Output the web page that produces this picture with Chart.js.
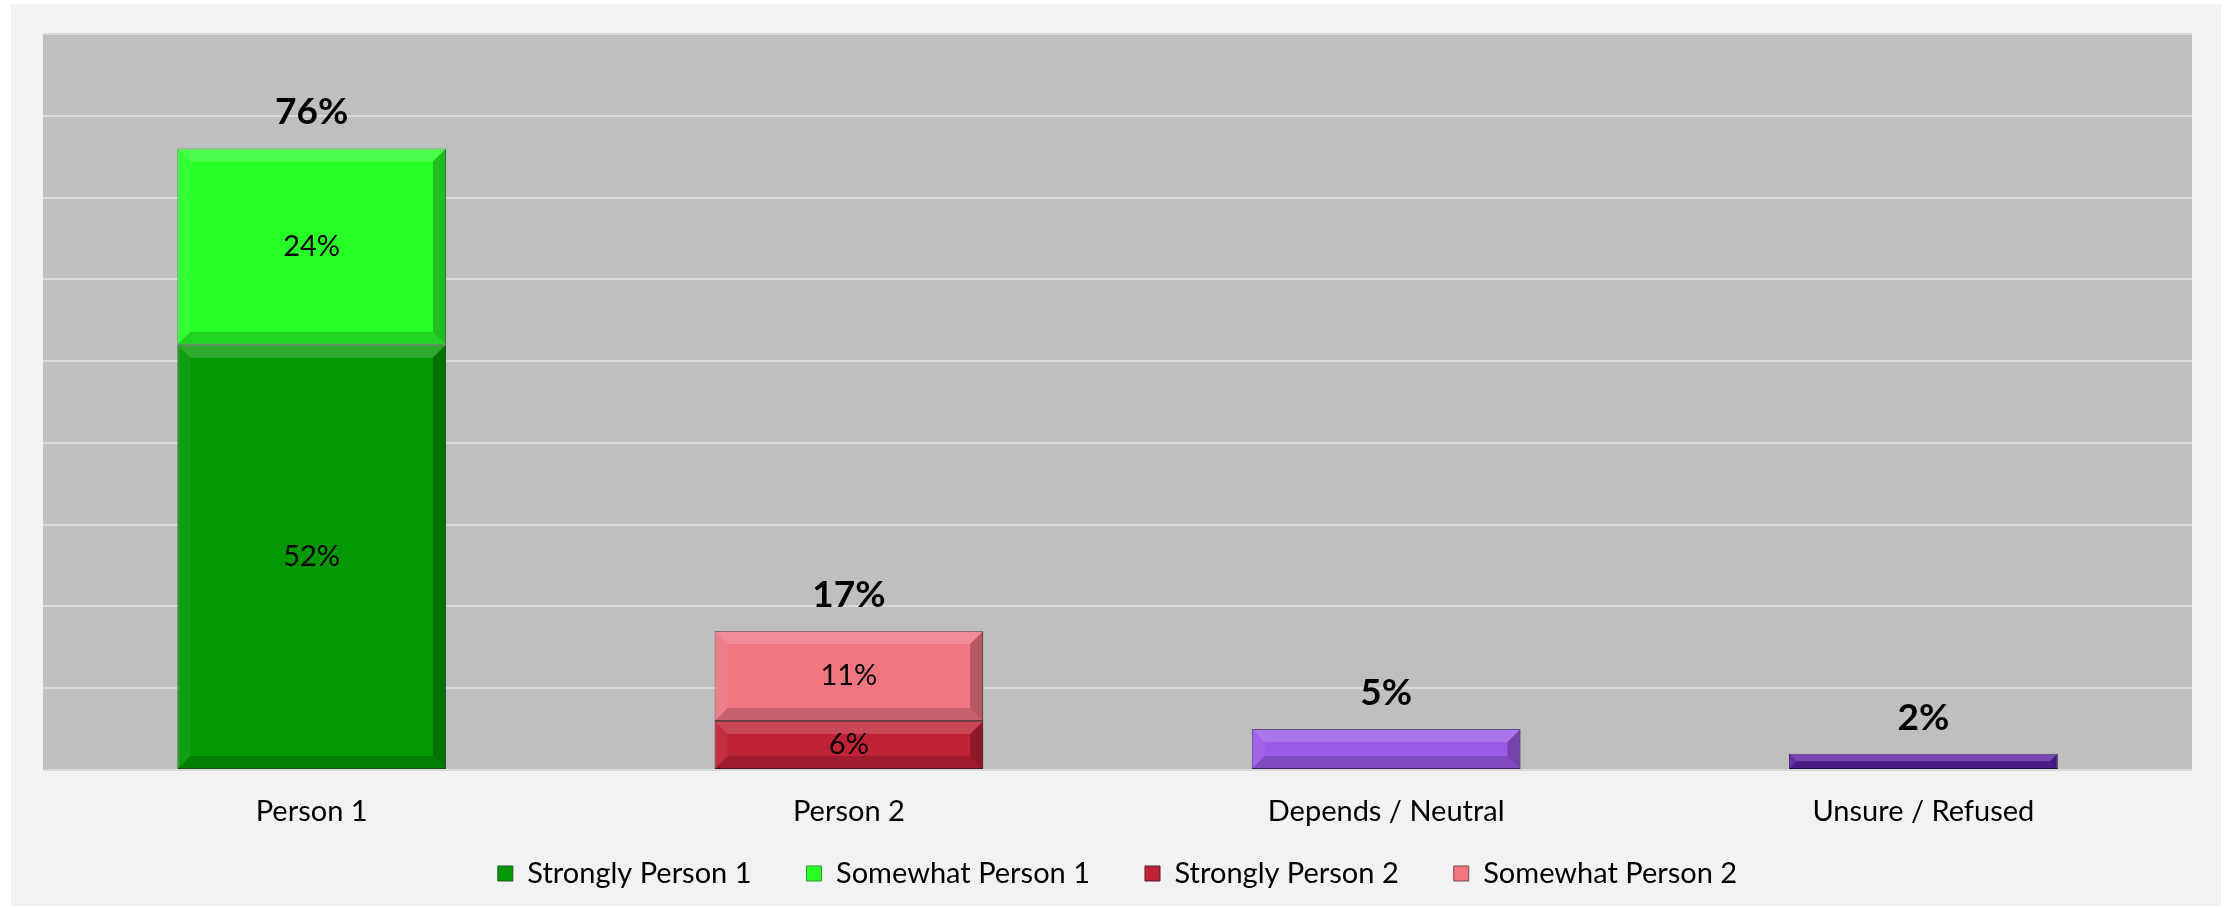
<!DOCTYPE html>
<html>
<head>
<meta charset="utf-8">
<script src="https://cdn.jsdelivr.net/npm/chart.js@4/dist/chart.umd.min.js"></script>
<style>
  body { margin: 0; background: #ffffff; }
  #wrap { position: relative; width: 2226px; height: 910px; }
  #frame { position: absolute; left: 11px; top: 4px; width: 2210px; height: 902px; background: #f2f2f2; }
  #myChart { position: absolute; left: 0; top: 0; }
</style>
</head>
<body>
<div id="wrap">
  <div id="frame"></div>
  <canvas id="myChart" width="2226" height="910"></canvas>
</div>
<script>
// values (percent)
const categories = ['Person 1', 'Person 2', 'Depends / Neutral', 'Unsure / Refused']
const stronglyPerson1 = [52, null, null, null]
const somewhatPerson1 = [24, null, null, null]
const stronglyPerson2 = [null, 6, null, null]
const somewhatPerson2 = [null, 11, null, null]
const dependsNeutral = [null, null, 5, null]
const unsureRefused = [null, null, null, 2]
const yMax = 90
const yStep = 10

const fontName = 'Lato, "Open Sans", sans-serif'

function makeSet(label, data, color, border, inside, legend) {
    return {
        label: label,
        data: data,
        backgroundColor: color,
        borderColor: border,
        borderWidth: 1,
        borderSkipped: false,
        showInside: inside,
        inLegend: legend
    }
}

const datasets = [
    makeSet('Strongly Person 1', stronglyPerson1, '#049804', '#1c5a1c', true, true),
    makeSet('Somewhat Person 1', somewhatPerson1, '#28ff28', '#2a9a2a', true, true),
    makeSet('Strongly Person 2', stronglyPerson2, '#c02236', '#5a1a22', true, true),
    makeSet('Somewhat Person 2', somewhatPerson2, '#f07682', '#7a4a50', true, true),
    makeSet('Depends / Neutral', dependsNeutral, '#9b5ae8', '#4a2a70', false, false),
    makeSet('Unsure / Refused', unsureRefused, '#5b22a3', '#2a1050', false, false)
]

function poly(ctx, pts, fill) {
    ctx.beginPath()
    ctx.moveTo(pts[0][0], pts[0][1])
    for (let k = 1; k < pts.length; k++) ctx.lineTo(pts[k][0], pts[k][1])
    ctx.closePath()
    ctx.fillStyle = fill
    ctx.fill()
}

// grey plot background
const plotBg = {
    id: 'plotBg',
    beforeDraw(chart) {
        const a = chart.chartArea
        chart.ctx.save()
        chart.ctx.fillStyle = '#bfbfbf'
        chart.ctx.fillRect(a.left, a.top, a.right - a.left, a.bottom - a.top)
        chart.ctx.restore()
    },
    // x axis box is kept short so the legend sits close; let its labels draw past it
    afterLayout(chart) {
        chart.scales.x.bottom = chart.height
    }
}

// bevel look on each bar, then the value labels
const barExtras = {
    id: 'barExtras',
    afterDatasetsDraw(chart) {
        const ctx = chart.ctx
        const tops = {}
        const totals = {}
        ctx.save()
        chart.data.datasets.forEach((ds, i) => {
            const meta = chart.getDatasetMeta(i)
            meta.data.forEach((bar, j) => {
                if (ds.data[j] == null) return
                const p = bar.getProps(['x', 'y', 'base', 'width'], true)
                const l = p.x - p.width / 2, r = p.x + p.width / 2
                const t = Math.min(p.y, p.base), b = Math.max(p.y, p.base)
                const s = Math.min(13, (b - t) / 2)
                poly(ctx, [[l, t], [r, t], [r - s, t + s], [l + s, t + s]], 'rgba(255,255,255,0.17)')
                poly(ctx, [[l, t], [l + s, t + s], [l + s, b - s], [l, b]], 'rgba(255,255,255,0.06)')
                poly(ctx, [[r, t], [r, b], [r - s, b - s], [r - s, t + s]], 'rgba(0,0,0,0.25)')
                poly(ctx, [[l, b], [l + s, b - s], [r - s, b - s], [r, b]], 'rgba(0,0,0,0.17)')
                tops[j] = tops[j] == null ? t : Math.min(tops[j], t)
                totals[j] = (totals[j] || 0) + ds.data[j]
                if (ds.showInside) {
                    ctx.fillStyle = '#000'
                    ctx.font = '29px ' + fontName
                    ctx.textAlign = 'center'
                    ctx.textBaseline = 'middle'
                    ctx.fillText(ds.data[j] + '%', p.x, (t + b) / 2)
                }
            })
        })
        const xs = chart.scales.x
        Object.keys(tops).forEach(j => {
            ctx.fillStyle = '#000'
            ctx.font = 'bold 37px ' + fontName
            ctx.textAlign = 'center'
            ctx.textBaseline = 'middle'
            ctx.fillText(totals[j] + '%', xs.getPixelForValue(Number(j)), tops[j] - 36)
        })
        ctx.restore()
    }
}

const config = {
    type: 'bar',
    data: { labels: categories, datasets: datasets },
    options: {
        responsive: false,
        animation: false,
        layout: { padding: { left: 43, right: 34, top: 34, bottom: 12 } },
        datasets: { bar: { categoryPercentage: 1, barPercentage: 0.5 } },
        scales: {
            x: {
                stacked: true,
                grid: { display: false, drawTicks: false },
                border: { display: false },
                ticks: { color: '#000', font: { family: fontName, size: 29 }, padding: 24 },
                afterFit: (scale) => { scale.height = 34 }
            },
            y: {
                stacked: true,
                min: 0,
                max: yMax,
                ticks: { display: false, stepSize: yStep },
                grid: { color: '#d9d9d9', lineWidth: 2, drawTicks: false },
                border: { display: false }
            }
        },
        plugins: {
            tooltip: { enabled: false },
            legend: {
                position: 'bottom',
                labels: {
                    color: '#000',
                    font: { family: fontName, size: 29 },
                    boxWidth: 15,
                    boxHeight: 15,
                    padding: 55,
                    filter: (item, data) => data.datasets[item.datasetIndex].inLegend
                }
            }
        }
    },
    plugins: [plotBg, barExtras]
}

const myChart = new Chart(document.getElementById('myChart'), config)
</script>
</body>
</html>
